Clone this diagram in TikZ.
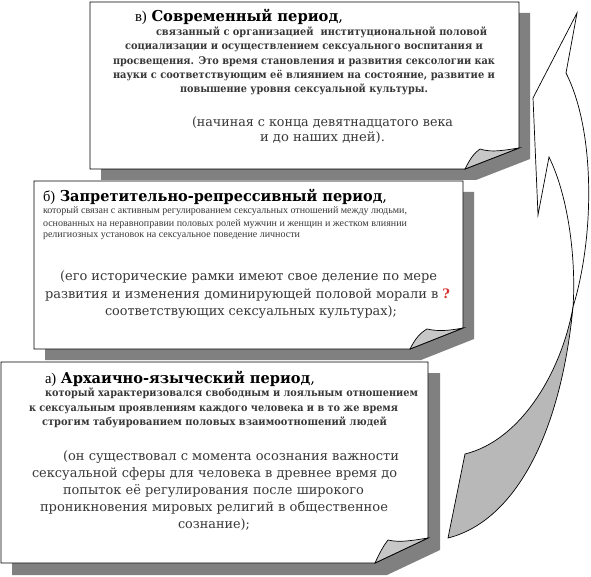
\documentclass[tikz,border=0pt]{standalone}
\usepackage{fontspec}
\setmainfont{DejaVu Serif}
\newfontfamily\tnr{Liberation Serif}
\usepackage{graphicx}
\newcommand\fw[2]{\resizebox{#1pt}{\height}{#2}}
\definecolor{shadowgray}{gray}{0.50}
\definecolor{foldgray}{gray}{0.78}
\definecolor{arrowgray}{gray}{0.72}
\definecolor{txtgray}{gray}{0.22}
\definecolor{qred}{RGB}{215,50,50}
\tikzset{
  boxshadow/.style={fill=shadowgray},
  paper/.style={fill=white,draw=black,line width=0.9pt,line join=miter},
  foldshape/.style={fill=foldgray,draw=black,line width=0.7pt},
  arrowline/.style={draw=black,line width=0.7pt,line join=miter},
  ln/.style={anchor=base west,inner sep=0pt,outer sep=0pt},
  titletxt/.style={ln,font=\fontsize{15}{18}\selectfont,text=black},
  bodytxt/.style={ln,font=\fontsize{10.6}{12}\selectfont\bfseries,text=txtgray},
  smalltxt/.style={ln,font=\tnr\fontsize{10}{12}\selectfont,text=txtgray},
  parentxt/.style={ln,font=\fontsize{13}{15}\selectfont,text=txtgray}
}
\begin{document}
\begin{tikzpicture}[x=1pt,y=-1pt]
\useasboundingbox (0,0) rectangle (591,577);

% ---------- box a (bottom) ----------
\fill[boxshadow] (12,373) -- (440,373) -- (440,550) -- (387,575) -- (12,575) -- cycle;
\path[paper] (1,362) -- (428,362) -- (428,538) -- (375,563) -- (1,563) -- cycle;
\path[foldshape] (375,563) .. controls (380,552) and (384,545) .. (388,540)
   .. controls (400,543) and (415,540) .. (428,538) -- cycle;

% ---------- box b (middle) ----------
\fill[boxshadow] (45,192) -- (474,192) -- (474,339) -- (421,360) -- (45,360) -- cycle;
\path[paper] (34,181) -- (463,181) -- (463,328) -- (410,349) -- (34,349) -- cycle;
\path[foldshape] (410,349) .. controls (415,339) and (420,333) .. (427,329)
   .. controls (440,332) and (452,330) .. (463,328) -- cycle;

% ---------- box v (top) ----------
\fill[boxshadow] (101,13) -- (530,13) -- (530,159) -- (476,180) -- (101,180) -- cycle;
\path[paper] (90,2) -- (519,2) -- (519,148) -- (465,169) -- (90,169) -- cycle;
\path[foldshape] (465,169) .. controls (470,159) and (474,153) .. (480,149)
   .. controls (492,153) and (505,150) .. (519,148) -- cycle;

% ---------- curved arrow ----------
\coordinate (cx) at (573,307);
\path[arrowline,fill=arrowgray] (cx) .. controls (562,370) and (522,440) .. (465,454)
   -- (448,538) .. controls (512,522) and (560,440) .. (cx) -- cycle;
\path[arrowline,fill=white] (cx) .. controls (576,265) and (570,200) .. (549,157)
   -- (538,215) -- (533,98) -- (577,13) -- (566,73)
   .. controls (595,130) and (595,235) .. (cx) -- cycle;

% ---------- texts: v ----------
\node[titletxt] (vt) at (135,22) {\fw{208}{{\tnr в)} \textbf{Современный период},}};
\node[bodytxt] (vb1) at (156,36) {\fw{331}{связанный с организацией \ институциональной половой}};
\node[bodytxt] (vb2) at (125,50) {\fw{358}{социализации и осуществлением сексуального воспитания и}};
\node[bodytxt] (vb3) at (113,65) {\fw{382}{просвещения. Это время становления и развития сексологии как}};
\node[bodytxt] (vb4) at (113,79) {\fw{382}{науки с соответствующим её влиянием на состояние, развитие и}};
\node[bodytxt] (vb5) at (180,93) {\fw{248}{повышение уровня сексуальной культуры.}};
\node[parentxt] (vp1) at (192,127) {\fw{261}{(начиная с конца девятнадцатого века}};
\node[parentxt] (vp2) at (260,142) {\fw{125}{и до наших дней).}};

% ---------- texts: b ----------
\node[titletxt] (bt) at (43,202) {\fw{344}{{\tnr б)} \textbf{Запретительно-репрессивный период},}};
\node[smalltxt] (bs1) at (43,214) {\fw{364}{который связан с активным регулированием сексуальных отношений между людьми,}};
\node[smalltxt] (bs2) at (43,226) {\fw{364}{основанных на неравноправии половых ролей мужчин и женщин и жестком влиянии}};
\node[smalltxt] (bs3) at (43,238) {\fw{257}{религиозных установок на сексуальное поведение личности}};
\node[parentxt] (bp1) at (60,280) {\fw{377}{(его исторические рамки имеют свое деление по мере}};
\node[parentxt] (bp2) at (45,298) {\fw{405}{развития и изменения доминирующей половой морали в {\color{qred}\textbf{?}}}};
\node[parentxt] (bp3) at (105,315) {\fw{292}{соответствующих сексуальных культурах);}};

% ---------- texts: a ----------
\node[titletxt] (at) at (45,383) {\fw{270}{{\tnr а)} \textbf{Архаично-языческий период},}};
\node[bodytxt] (ab1) at (45,396) {\fw{373}{который характеризовался свободным и лояльным отношением}};
\node[bodytxt] (ab2) at (29,411) {\fw{369}{к сексуальным проявлениям каждого человека и в то же время}};
\node[bodytxt] (ab3) at (42,425) {\fw{345}{строгим табуированием половых взаимоотношений людей}};
\node[parentxt] (ap1) at (63,460) {\fw{336}{(он существовал с момента осознания важности}};
\node[parentxt] (ap2) at (32,477) {\fw{365}{сексуальной сферы для человека в древнее время до}};
\node[parentxt] (ap3) at (63,494) {\fw{301}{попыток её регулирования после широкого}};
\node[parentxt] (ap4) at (40,511) {\fw{348}{проникновения мировых религий в общественное}};
\node[parentxt] (ap5) at (178,528) {\fw{72}{сознание);}};
\end{tikzpicture}
\end{document}
